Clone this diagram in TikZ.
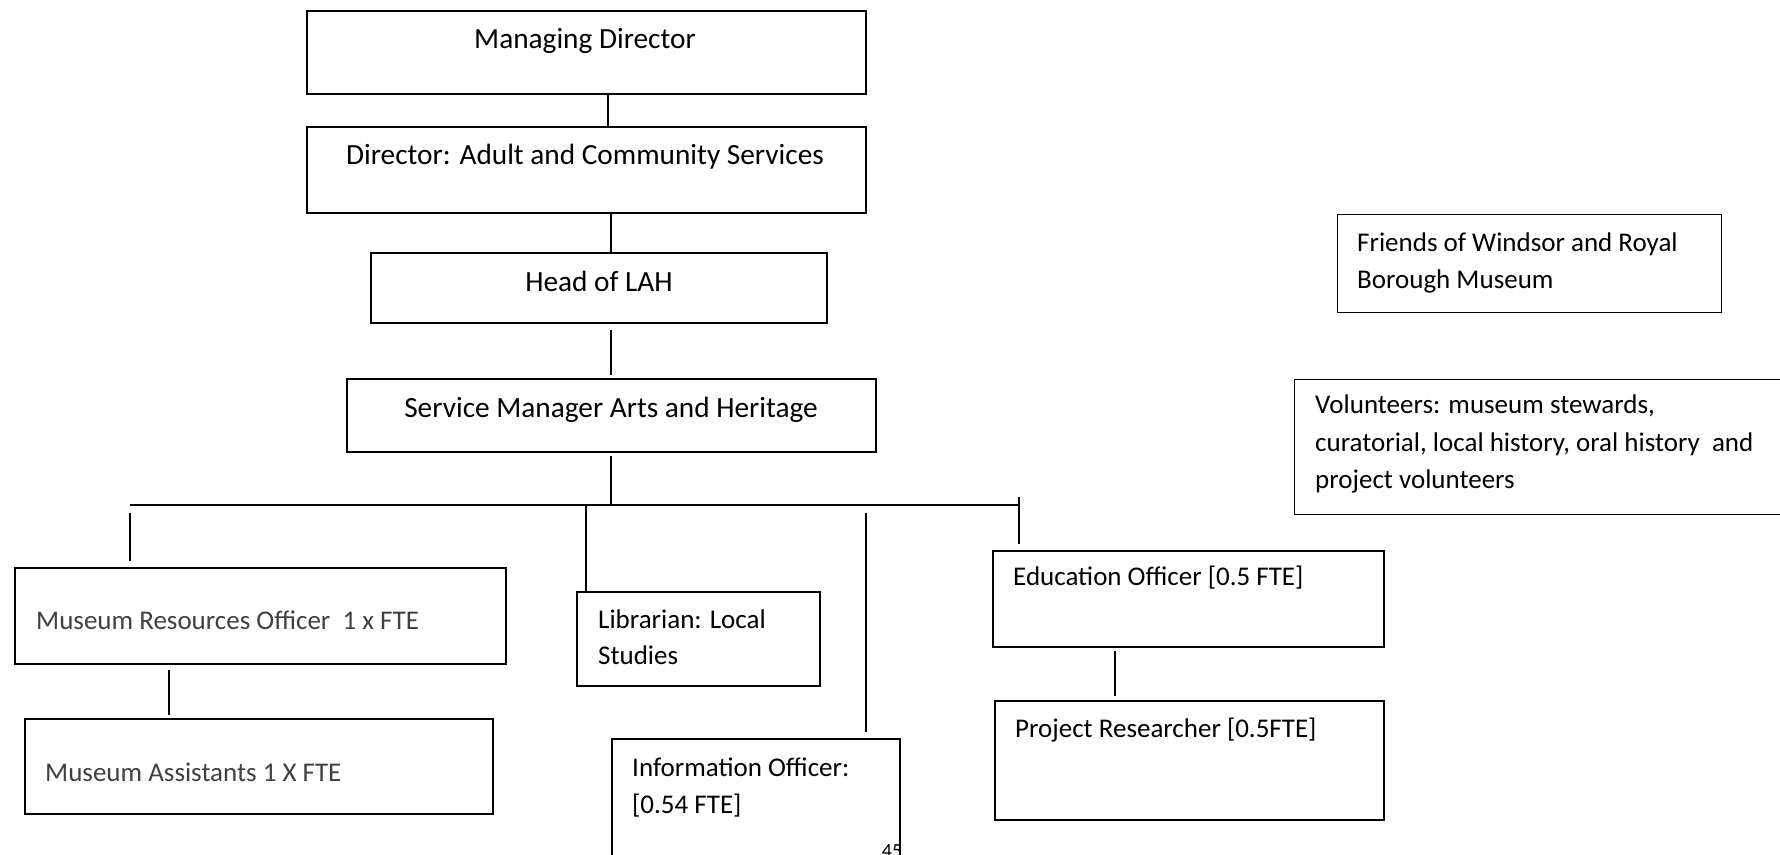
\documentclass[tikz,border=0pt]{standalone}
\usepackage{fontspec}
\setmainfont{Carlito}
\definecolor{textgray}{HTML}{404040}
\begin{document}
\begin{tikzpicture}[x=1pt,y=-1pt,
  box/.style={draw=black, line width=1.6pt, inner sep=0pt, anchor=north west},
  thickbox/.style={box, line width=2.3pt},
  thinbox/.style={box, line width=1.2pt},
  conn/.style={draw=black, line width=1.8pt},
  lbl/.style={inner sep=0pt, font=\fontsize{27}{37}\selectfont, text=black},
  biglbl/.style={lbl, anchor=base, font=\fontsize{29.3}{37}\selectfont},
  glbl/.style={lbl, text=textgray}]
\useasboundingbox (0,0) rectangle (1780,854);
\clip (0,0) rectangle (1780,854);

% boxes
\node[box, minimum width=559pt, minimum height=83pt] (md) at (306,10) {};
\node[box, minimum width=559pt, minimum height=86pt] (dir) at (306,126) {};
\node[box, minimum width=456pt, minimum height=70pt] (head) at (370,252) {};
\node[box, minimum width=529pt, minimum height=73pt] (sm) at (346,378) {};
\node[box, minimum width=491pt, minimum height=96pt] (mro) at (14,567) {};
\node[box, minimum width=468pt, minimum height=95pt] (ma) at (24,718) {};
\node[thickbox, minimum width=243pt, minimum height=94pt] (lib) at (576,591) {};
\node[box, minimum width=288pt, minimum height=150pt] (info) at (611,738) {};
\node[thickbox, minimum width=391pt, minimum height=96pt] (edu) at (992,550) {};
\node[box, minimum width=389pt, minimum height=119pt] (pr) at (994,700) {};
\node[thinbox, minimum width=384pt, minimum height=98pt] (fr) at (1337,214) {};
\node[thinbox, minimum width=510pt, minimum height=135pt] (vol) at (1294,379) {};

% texts
\node[biglbl] (tmd) at (585,48) {Managing Director};
\node[biglbl] (tdir) at (585,164) {Director: Adult and Community Services};
\node[biglbl] (thead) at (599,291) {Head of LAH};
\node[biglbl] (tsm) at (611,417) {Service Manager Arts and Heritage};
\node[glbl, anchor=base west] (tmro) at (36,629) {Museum Resources Officer\ \ 1 x FTE};
\node[glbl, anchor=base west] (tma) at (45,781) {Museum Assistants 1 X FTE};
\node[lbl, anchor=base west] (tlib1) at (598,628) {Librarian: Local};
\node[lbl, anchor=base west] (tlib2) at (598,664) {Studies};
\node[lbl, anchor=base west] (tinfo1) at (632,776) {Information Officer:};
\node[lbl, anchor=base west] (tinfo2) at (632,813) {[0.54 FTE]};
\node[lbl, anchor=base west] (tedu) at (1013,585) {Education Officer [0.5 FTE]};
\node[lbl, anchor=base west] (tpr) at (1015,737) {Project Researcher [0.5FTE]};
\node[lbl, anchor=base west] (tfr1) at (1357,251) {Friends of Windsor and Royal};
\node[lbl, anchor=base west] (tfr2) at (1357,288) {Borough Museum};
\node[lbl, anchor=base west] (tvol1) at (1315,413) {Volunteers: museum stewards,};
\node[lbl, anchor=base west] (tvol2) at (1315,451) {curatorial, local history, oral history\ \ and};
\node[lbl, anchor=base west] (tvol3) at (1315,488) {project volunteers};
\node[inner sep=0pt, anchor=north, font=\fontsize{20}{20}\selectfont] (pg) at (892,844) {45};

% connectors
\coordinate (busL) at (130,505);
\coordinate (busR) at (1019,505);
\draw[conn] (608,0 |- md.south) -- (608,0 |- dir.north);
\draw[conn] (611,0 |- dir.south) -- (611,0 |- head.north);
\draw[conn, shorten <=6pt, shorten >=3pt] (611,0 |- head.south) -- (611,0 |- sm.north);
\draw[conn, shorten <=3pt] (611,0 |- sm.south) -- (611,0 |- busL);
\draw[conn] (busL) -- (busR);
\draw[conn, shorten <=8pt, shorten >=6pt] (busL) -- (busL |- mro.north);
\draw[conn, shorten >=-2pt] (586,0 |- busL) -- (586,0 |- lib.north);
\draw[conn, shorten <=8pt, shorten >=6pt] (866,0 |- busL) -- (866,0 |- info.north);
\draw[conn, shorten <=-8pt, shorten >=6pt] (busR) -- (busR |- edu.north);
\draw[conn, shorten <=5pt, shorten >=3pt] (169,0 |- mro.south) -- (169,0 |- ma.north);
\draw[conn, shorten <=3pt, shorten >=4pt] (1115,0 |- edu.south) -- (1115,0 |- pr.north);
\end{tikzpicture}
\end{document}
